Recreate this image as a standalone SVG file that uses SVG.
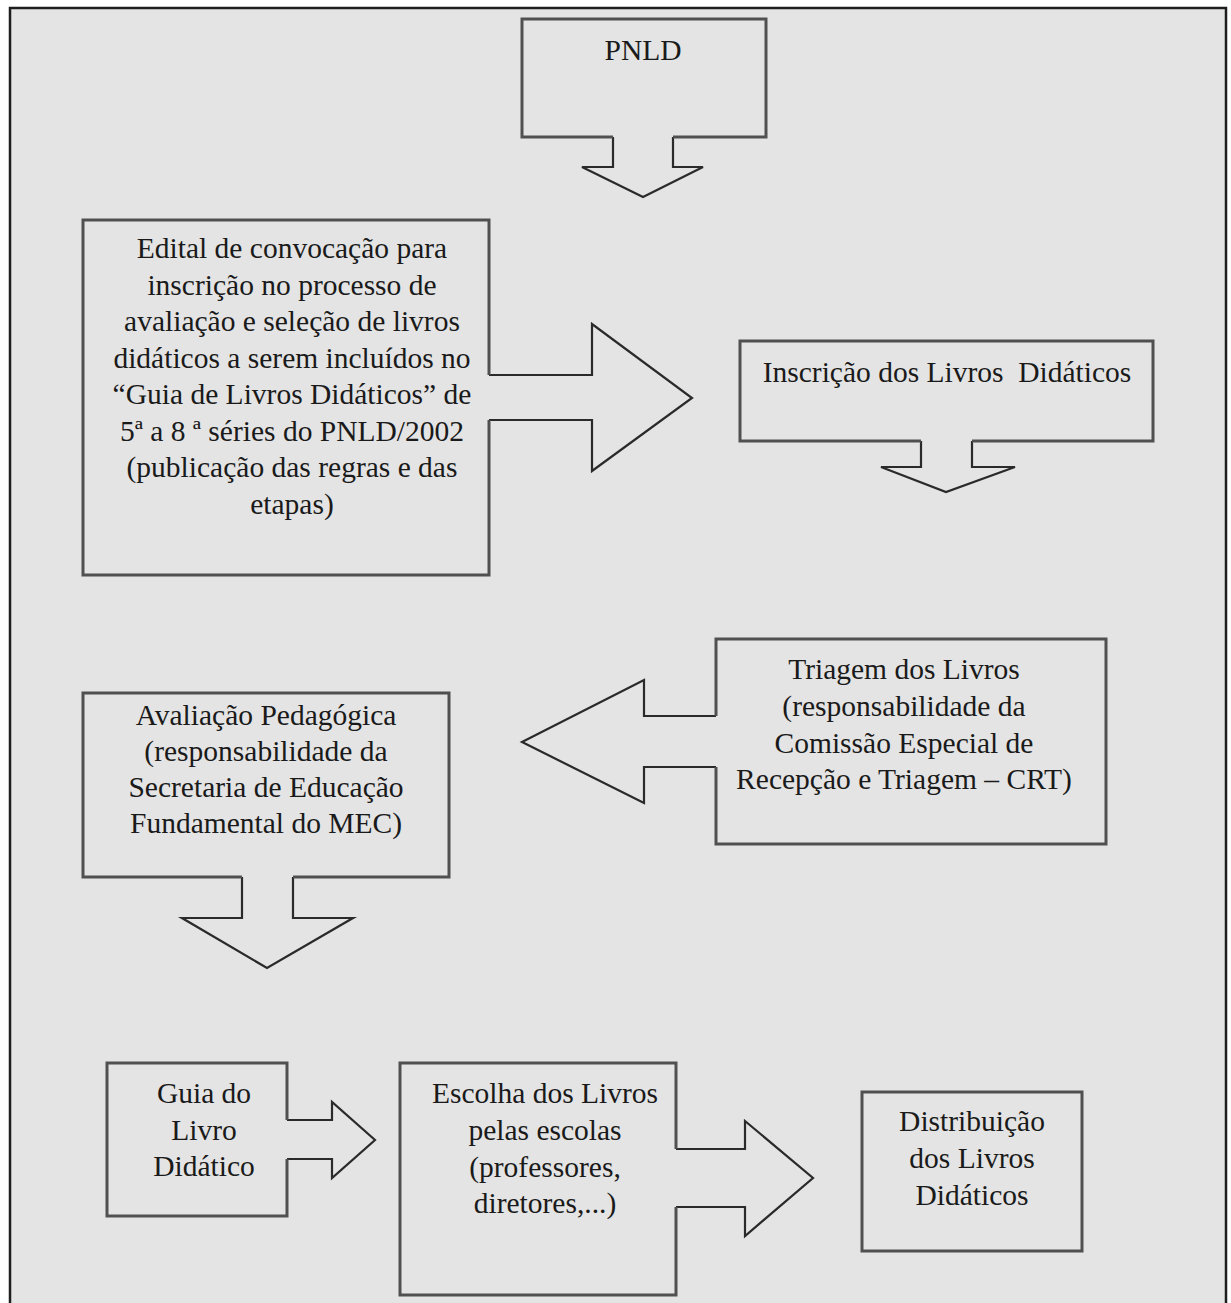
<svg xmlns="http://www.w3.org/2000/svg" width="1231" height="1303" viewBox="0 0 1231 1303">
<style>
.box{fill:none;stroke:#505050;stroke-width:3;stroke-linejoin:miter}
.arr{fill:none;stroke:#2a2a2a;stroke-width:2.2;stroke-linejoin:miter}
.t{font-family:"Liberation Serif","Times New Roman",serif;font-size:29.5px;fill:#1a1a1a;text-anchor:middle}
</style>
<rect x="0" y="0" width="1231" height="1303" fill="#ffffff"/>
<rect x="10" y="8" width="1216" height="1310" fill="#e4e4e4" stroke="#1e1e1e" stroke-width="2.5"/>
<g id="connectors">
<path class="arr" d="M613,137 V167 H582 L643,197 L703,167 H673 V137"/>
<path class="arr" d="M489,375 H592 V324 L692,398 L592,471 V420 H489"/>
<path class="arr" d="M921,441 V467 H881 L946,492 L1015,467 H972 V441"/>
<path class="arr" d="M716,716 H644 V680 L522,742 L644,803 V767 H716"/>
<path class="arr" d="M242,877 V918 H182 L267,968 L353,918 H293 V877"/>
<path class="arr" d="M287,1120 H332 V1102 L375,1140 L332,1178 V1159 H287"/>
<path class="arr" d="M676,1149 H745 V1121 L813,1178 L745,1236 V1207 H676"/>
</g>
<g id="pnld">
<path class="box" d="M613,137 H522 V19 H766 V137 H673"/>
<text class="t" x="643" y="60">PNLD</text>
</g>
<g id="edital">
<path class="box" d="M489,375 V220 H83 V575 H489 V420"/>
<text class="t" x="292" y="258">Edital de convocação para</text>
<text class="t" x="292" y="294.5">inscrição no processo de</text>
<text class="t" x="292" y="331">avaliação e seleção de livros</text>
<text class="t" x="292" y="367.5">didáticos a serem incluídos no</text>
<text class="t" x="292" y="404">“Guia de Livros Didáticos” de</text>
<text class="t" x="292" y="440.5">5ª a 8 ª séries do PNLD/2002</text>
<text class="t" x="292" y="477">(publicação das regras e das</text>
<text class="t" x="292" y="513.5">etapas)</text>
</g>
<g id="inscricao">
<path class="box" d="M921,441 H740 V341 H1153 V441 H972"/>
<text class="t" x="947" y="381.5" xml:space="preserve">Inscrição dos Livros  Didáticos</text>
</g>
<g id="triagem">
<path class="box" d="M716,716 V639 H1106 V844 H716 V767"/>
<text class="t" x="904" y="679">Triagem dos Livros</text>
<text class="t" x="904" y="716">(responsabilidade da</text>
<text class="t" x="904" y="752.5">Comissão Especial de</text>
<text class="t" x="904" y="789">Recepção e Triagem – CRT)</text>
</g>
<g id="avaliacao">
<path class="box" d="M242,877 H83 V693 H449 V877 H293"/>
<text class="t" x="266" y="725">Avaliação Pedagógica</text>
<text class="t" x="266" y="761">(responsabilidade da</text>
<text class="t" x="266" y="797">Secretaria de Educação</text>
<text class="t" x="266" y="833">Fundamental do MEC)</text>
</g>
<g id="guia">
<path class="box" d="M287,1120 V1063 H107 V1216 H287 V1159"/>
<text class="t" x="204" y="1103">Guia do</text>
<text class="t" x="204" y="1139.5">Livro</text>
<text class="t" x="204" y="1176">Didático</text>
</g>
<g id="escolha">
<path class="box" d="M676,1149 V1063 H400 V1295 H676 V1207"/>
<text class="t" x="545" y="1103">Escolha dos Livros</text>
<text class="t" x="545" y="1140">pelas escolas</text>
<text class="t" x="545" y="1176.5">(professores,</text>
<text class="t" x="545" y="1213">diretores,...)</text>
</g>
<g id="distribuicao">
<rect class="box" x="862" y="1092" width="220" height="159"/>
<text class="t" x="972" y="1131">Distribuição</text>
<text class="t" x="972" y="1168">dos Livros</text>
<text class="t" x="972" y="1204.5">Didáticos</text>
</g>
</svg>
